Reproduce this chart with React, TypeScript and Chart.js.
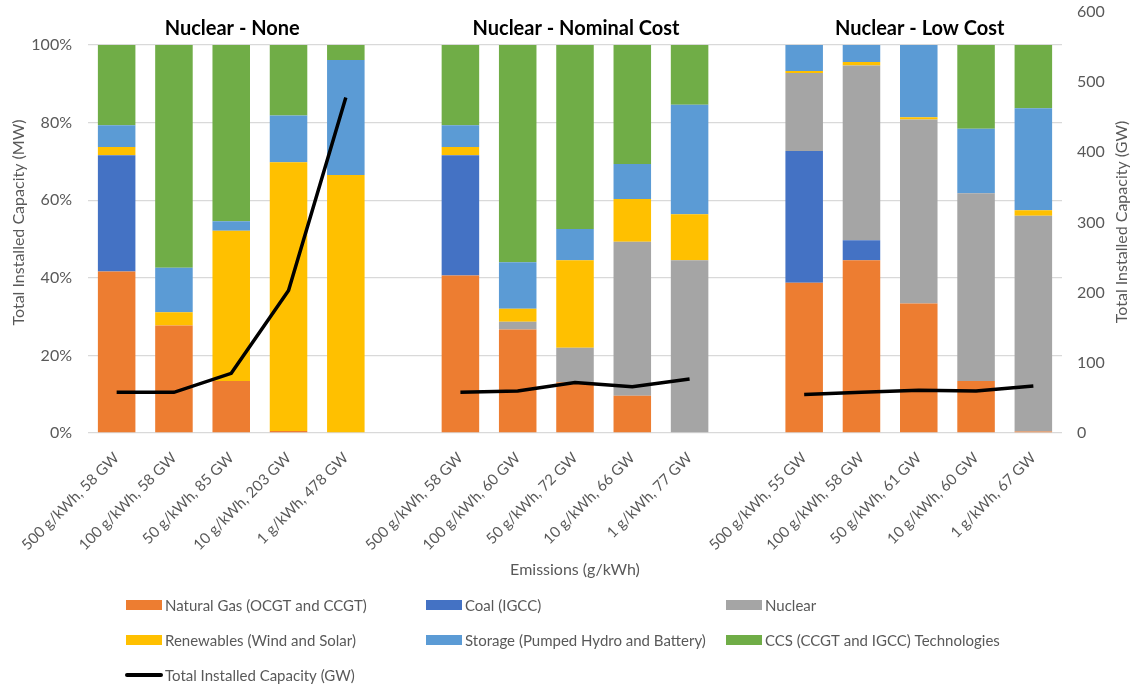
import React, { useEffect, useRef } from 'react';
import { Chart, registerables } from 'chart.js';

Chart.register(...registerables);

const categories = [
  '500 g/kWh, 58 GW', '100 g/kWh, 58 GW', '50 g/kWh, 85 GW', '10 g/kWh, 203 GW', '1 g/kWh, 478 GW', '',
  '500 g/kWh, 58 GW', '100 g/kWh, 60 GW', '50 g/kWh, 72 GW', '10 g/kWh, 66 GW', '1 g/kWh, 77 GW', '',
  '500 g/kWh, 55 GW', '100 g/kWh, 58 GW', '50 g/kWh, 61 GW', '10 g/kWh, 60 GW', '1 g/kWh, 67 GW',
];
const groupTitles = ['Nuclear - None', 'Nuclear - Nominal Cost', 'Nuclear - Low Cost'];
const groupCenterIndex = [2, 8, 14];

const naturalGas = [41.6, 27.7, 13.4, 0.5, 0, null, 40.6, 26.7, 13.1, 9.6, 0, null, 38.7, 44.5, 33.4, 13.4, 0.4];
const coal = [30.0, 0, 0, 0, 0, null, 31.0, 0, 0, 0, 0, null, 34.0, 5.2, 0, 0, 0];
const nuclear = [0, 0, 0, 0, 0, null, 0, 2.0, 8.9, 39.7, 44.5, null, 20.1, 45.0, 47.4, 48.4, 55.6];
const renewables = [2.1, 3.4, 38.7, 69.3, 66.5, null, 2.1, 3.3, 22.5, 11.0, 11.9, null, 0.5, 0.9, 0.6, 0, 1.4];
const storage = [5.6, 11.5, 2.5, 12.0, 29.6, null, 5.6, 12.0, 8.1, 9.0, 28.2, null, 6.7, 4.4, 18.6, 16.6, 26.3];
const ccs = [20.7, 57.4, 45.4, 18.2, 3.9, null, 20.7, 56.0, 47.4, 30.7, 15.4, null, 0, 0, 0, 21.6, 16.3];
const totalCapacityGW = [58, 58, 85, 203, 478, null, 58, 60, 72, 66, 77, null, 55, 58, 61, 60, 67];

const leftTicks = [0, 20, 40, 60, 80, 100];
const rightTicks = [0, 100, 200, 300, 400, 500, 600];

const seriesNames = [
  'Natural Gas (OCGT and CCGT)', 'Coal (IGCC)', 'Nuclear',
  'Renewables (Wind and Solar)', 'Storage (Pumped Hydro and Battery)', 'CCS (CCGT and IGCC) Technologies',
];
const lineName = 'Total Installed Capacity (GW)';
const colors = ['#ED7D31', '#4472C4', '#A5A5A5', '#FFC000', '#5B9BD5', '#70AD47'];

const FONT = 'Lato, "Open Sans", sans-serif';
const TEXT = '#595959';

const overlayPlugin = {
  id: 'overlay',
  afterDraw(chart: any) {
    const { ctx, scales, chartArea } = chart;
    ctx.save();
    // group titles
    ctx.fillStyle = '#000000';
    ctx.font = `bold 20px ${FONT}`;
    ctx.textAlign = 'center';
    ctx.textBaseline = 'middle';
    groupTitles.forEach((t, i) => {
      const x = scales.x.getPixelForValue(groupCenterIndex[i]);
      ctx.fillText(t, x + 1, chartArea.top + 17);
    });
    ctx.restore();
    // right axis title (reads bottom-to-top)
    ctx.save();
    ctx.fillStyle = TEXT;
    ctx.font = `16px ${FONT}`;
    ctx.textAlign = 'center';
    ctx.textBaseline = 'middle';
    ctx.translate(1122, 222);
    ctx.rotate(-Math.PI / 2);
    ctx.fillText('Total Installed Capacity (GW)', 0, 0);
    ctx.restore();
    // legend
    ctx.save();
    const cols = [126, 426, 726];
    const rows = [605, 640, 675];
    ctx.font = `15px ${FONT}`;
    ctx.textAlign = 'left';
    ctx.textBaseline = 'middle';
    seriesNames.forEach((n, i) => {
      const cx = cols[i % 3];
      const cy = rows[Math.floor(i / 3)];
      ctx.fillStyle = colors[i];
      ctx.fillRect(cx, cy - 5, 36, 10);
      ctx.fillStyle = TEXT;
      ctx.fillText(n, cx + 39, cy + 1);
    });
    ctx.strokeStyle = '#000000';
    ctx.lineWidth = 4;
    ctx.lineCap = 'round';
    ctx.beginPath();
    ctx.moveTo(cols[0] + 1, rows[2]);
    ctx.lineTo(cols[0] + 35, rows[2]);
    ctx.stroke();
    ctx.fillStyle = TEXT;
    ctx.fillText(lineName, cols[0] + 39, rows[2] + 1);
    ctx.restore();
  },
};

export default function App() {
  const ref = useRef<HTMLCanvasElement | null>(null);
  useEffect(() => {
    document.body.style.margin = '0';
    const canvas = ref.current;
    if (!canvas) return;
    const barSets = [naturalGas, coal, nuclear, renewables, storage, ccs];
    const chart = new Chart(canvas, {
      type: 'bar',
      data: {
        labels: categories,
        datasets: [
          ...barSets.map((d, i) => ({
            type: 'bar' as const,
            label: seriesNames[i],
            data: d,
            backgroundColor: colors[i],
            borderWidth: 0,
            yAxisID: 'y',
            stack: 's',
            order: 1,
            barPercentage: 1,
            categoryPercentage: 0.655,
          })),
          {
            type: 'line' as const,
            label: lineName,
            data: totalCapacityGW,
            borderColor: '#000000',
            backgroundColor: '#000000',
            borderWidth: 3.5,
            pointRadius: 0,
            spanGaps: false,
            tension: 0,
            yAxisID: 'y1',
            order: 0,
          },
        ],
      } as any,
      options: {
        animation: false,
        responsive: false,
        maintainAspectRatio: false,
        layout: { padding: { top: 12, bottom: 104, left: 0, right: 0 } },
        plugins: { legend: { display: false }, tooltip: { enabled: false } },
        scales: {
          x: {
            stacked: true,
            grid: { display: false, drawTicks: false },
            border: { display: false },
            ticks: {
              color: TEXT,
              font: { family: FONT, size: 15 },
              minRotation: 45,
              maxRotation: 45,
              autoSkip: false,
              padding: 16,
            },
            title: {
              display: true,
              text: 'Emissions (g/kWh)',
              color: TEXT,
              font: { family: FONT, size: 16 },
              padding: { top: 0, bottom: 4 },
            },
            afterFit(scale: any) {
              scale.height = 150;
              scale.paddingLeft = 0;
              scale.paddingRight = 0;
            },
          },
          y: {
            stacked: true,
            position: 'left',
            min: 0,
            max: 108.5,
            afterBuildTicks(scale: any) {
              scale.ticks = leftTicks.map((v) => ({ value: v }));
            },
            grid: { color: '#D9D9D9', lineWidth: 1.3, drawTicks: false },
            border: { display: false },
            ticks: {
              color: TEXT,
              font: { family: FONT, size: 16 },
              padding: 16,
              callback: (v: any) => `${v}%`,
            },
            title: {
              display: true,
              text: 'Total Installed Capacity (MW)',
              color: TEXT,
              font: { family: FONT, size: 16 },
              padding: { top: 9, bottom: 0 },
            },
            afterFit(scale: any) {
              scale.width = 88;
              scale.paddingTop = 0;
              scale.paddingBottom = 0;
            },
          },
          y1: {
            position: 'right',
            min: 0,
            max: 600,
            afterBuildTicks(scale: any) {
              scale.ticks = rightTicks.map((v) => ({ value: v }));
            },
            grid: { display: false, drawTicks: false },
            border: { display: false },
            ticks: {
              color: TEXT,
              font: { family: FONT, size: 16 },
              padding: 15,
            },
            afterFit(scale: any) {
              scale.width = 76;
              scale.paddingTop = 0;
              scale.paddingBottom = 0;
            },
          },
        },
      } as any,
      plugins: [overlayPlugin],
    });
    return () => chart.destroy();
  }, []);
  return (
    <div style={{ width: 1138, height: 687, position: 'relative' }}>
      <canvas ref={ref} width={1138} height={687} style={{ width: 1138, height: 687, display: 'block' }} />
    </div>
  );
}
